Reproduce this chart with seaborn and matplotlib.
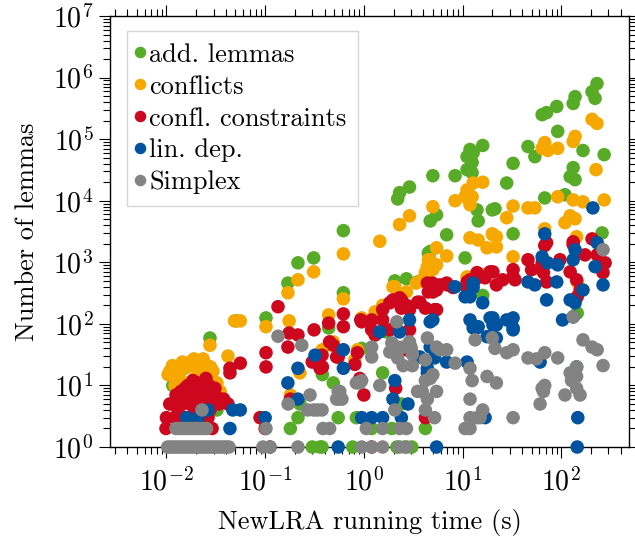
import matplotlib
matplotlib.use("Agg")
import matplotlib.pyplot as plt
import matplotlib.ticker as mticker
from matplotlib.lines import Line2D
import pandas as pd
import seaborn as sns

# ---------------- data (running time in s, number of lemmas) ----------------
series_names = ["add. lemmas", "conflicts", "confl. constraints", "lin. dep.", "Simplex"]
series_colors = ["#57AB27", "#F6A800", "#CC071E", "#00549F", "#838383"]

add_lemmas_pts = [
    (230, 800000), (205, 590000), (220, 460000), (138, 490000), (132, 380000), (90, 340000),
    (71, 270000), (64, 250000), (92, 134000), (46, 76000), (54, 52000), (16, 79000),
    (12.8, 60000), (12.5, 42000), (12.5, 28500), (32.5, 40500), (28, 19400), (166, 65500),
    (272, 56000), (132, 34500), (123, 24600), (138, 22000), (68, 11100), (109, 12500),
    (14, 7100), (14.4, 4700), (20, 7100), (21.3, 7400), (32.5, 2900), (259, 3000),
    (11.1, 52000), (11.9, 68000), (11.1, 32000), (8.4, 25500), (5.0, 25500), (2.9, 16700),
    (2.3, 13500), (2.2, 10700), (4.7, 4700), (5.45, 5900), (6.9, 2800), (2.06, 500),
    (2.7, 540), (4.5, 1420), (3.5, 480), (0.17, 460), (0.215, 980), (0.31, 1180),
    (0.62, 3270), (0.62, 320), (0.44, 86), (0.102, 125), (0.051, 112), (0.0276, 59),
    (0.0116, 10), (0.95, 40), (0.38, 15), (0.49, 11), (1.55, 16), (1.7, 74), (2.4, 5),
    (0.55, 3), (0.84, 3), (1.2, 2), (1.92, 2), (4.2, 2), (0.30, 1), (0.36, 1), (0.377, 1),
    (0.77, 1), (2.16, 1), (2.6, 1), (3.06, 1), (10.6, 1180), (4.7, 1500), (16, 290),
    (145, 150), (0.215, 3), (0.18, 2), (0.225, 5), (0.0325, 4),
]

conflicts_pts = [
    (205, 210000), (230, 180000), (138, 111000), (132, 92000), (68, 88000), (64, 71000),
    (73, 65500), (92, 71000), (225, 32000), (12.8, 19400), (16, 20000), (12.5, 11600),
    (11.9, 8600), (92, 11600), (132, 10300), (166, 9600), (272, 10300), (32.5, 8200),
    (46, 7650), (54, 7650), (28, 5300), (109, 4400), (123, 5700), (138, 5100), (20, 2900),
    (22, 2600), (68, 3500), (143, 2600), (11.9, 2500), (11.1, 15000), (10.6, 11600),
    (8.4, 10000), (5.0, 8000), (2.9, 5700), (2.3, 4100), (1.45, 2200), (14.4, 2300),
    (17.7, 1720), (20.3, 2800), (22, 1780), (32.5, 1230), (5.45, 1720), (4.5, 1100),
    (5.45, 910), (5.0, 760), (6.9, 1270), (4.4, 630), (3.9, 520), (2.7, 330), (2.06, 400),
    (11.1, 580), (16, 630), (0.17, 320), (0.215, 520), (0.31, 700), (0.62, 1370),
    (0.62, 255), (0.175, 112), (0.44, 140), (0.95, 125), (0.102, 90), (0.056, 112),
    (0.049, 112), (0.0276, 45), (0.042, 30), (1.3, 157), (1.55, 200), (1.97, 400),
    (3.4, 460), (4.2, 680), (4.7, 1100), (4.4, 850), (0.49, 51), (0.38, 38), (0.86, 38),
    (0.81, 26), (145, 480), (0.089, 3), (0.18, 7), (0.225, 16),
    (0.0108, 17), (0.0131, 18), (0.0154, 19), (0.018, 21), (0.021, 19), (0.0229, 17),
    (0.0264, 13), (0.0296, 17), (0.0137, 13), (0.0122, 10), (0.0154, 10), (0.0194, 13),
    (0.0245, 10), (0.0173, 24), (0.0218, 24), (0.0104, 15), (0.031, 10), (0.035, 8),
    (0.0325, 11), (0.019, 27), (0.025, 22), (0.0115, 21), (0.0145, 24), (0.0235, 27),
    (0.028, 20), (0.0125, 12),
]

confl_constraints_pts = [
    (0.01, 3), (0.0122, 3), (0.0147, 3), (0.018, 3), (0.0218, 3), (0.0264, 3),
    (0.0099, 2), (0.029, 2),
    (0.0131, 6), (0.0154, 7), (0.018, 8), (0.0218, 8), (0.0245, 9), (0.0276, 8), (0.031, 7),
    (0.0348, 6), (0.042, 5), (0.0144, 5), (0.0173, 5), (0.0208, 6), (0.0245, 5), (0.0288, 5),
    (0.0131, 4), (0.0194, 4), (0.0276, 4), (0.0154, 9), (0.031, 9), (0.0205, 11),
    (0.0251, 13), (0.0108, 5), (0.0165, 10), (0.0185, 12), (0.0235, 11), (0.0125, 7),
    (0.016, 6), (0.02, 7), (0.026, 7), (0.023, 6), (0.028, 6), (0.034, 5), (0.038, 6),
    (0.014, 8), (0.02, 9), (0.027, 10),
    (0.044, 16), (0.044, 19), (0.056, 23), (0.102, 34), (0.102, 20), (0.135, 190),
    (0.175, 71), (0.215, 66), (0.17, 42), (0.313, 80), (0.30, 24), (0.36, 19), (0.44, 103),
    (0.62, 145), (0.62, 90), (0.45, 51), (0.53, 29), (0.95, 108), (1.2, 116), (1.55, 170),
    (1.55, 116), (1.83, 220), (1.97, 245), (2.3, 265), (2.7, 200), (2.9, 170), (3.5, 225),
    (4.2, 180), (4.4, 460), (4.96, 460), (5.45, 355), (4.5, 330), (5.45, 170), (6.9, 460),
    (11.1, 390), (1.2, 80), (1.83, 80), (2.9, 80), (1.3, 66), (0.49, 45), (0.55, 29),
    (0.377, 31), (0.38, 20), (0.86, 34), (0.81, 22), (2.7, 38), (3.0, 38), (1.0, 7),
    (0.91, 13), (2.1, 9), (4.2, 3), (2.4, 180), (2.4, 245), (3.7, 225), (5.2, 170),
    (0.93, 116), (4.96, 400), (5.9, 430), (7.0, 430), (5.0, 330), (8.0, 390), (11.1, 480),
    (13.4, 520), (16.9, 560), (20.3, 700), (25.5, 520), (32.5, 760), (34, 520), (68, 1870),
    (132, 1940), (174, 1320), (231, 1320), (278, 980), (265, 680), (97, 1100), (50, 760),
    (64, 980), (46, 1100), (32.5, 580), (22, 430), (14, 680), (19, 700), (11.9, 520),
    (66, 680), (71, 480), (123, 700), (143, 520), (155, 355), (145, 275), (71, 2080),
    (132, 2150), (205, 2400), (0.089, 3), (0.1, 2), (0.112, 1), (0.18, 6), (1.2, 1),
]

lin_dep_pts = [
    (0.016, 3), (0.021, 3), (0.0264, 4), (0.047, 4), (0.056, 4), (0.044, 2), (0.1, 3),
    (0.17, 11), (0.215, 19), (0.215, 6), (0.32, 31), (0.62, 38), (0.62, 19), (0.55, 1),
    (10.6, 275), (8.4, 400), (2.9, 116), (4.7, 108), (5.0, 116), (1.45, 74), (2.3, 74),
    (3.7, 29), (4.7, 42), (5.45, 38), (5.2, 28), (6.9, 24), (11.1, 24), (4.4, 19),
    (2.06, 12), (1.97, 6), (2.8, 5), (4.4, 16), (0.95, 3), (1.2, 3), (1.55, 3), (2.4, 3),
    (5.45, 1), (11.9, 116), (12.8, 86), (14.4, 90), (20.3, 125), (22, 96), (28, 116),
    (32.5, 125), (32.5, 86), (11.9, 275), (16, 220), (12.8, 460), (64, 1230), (73, 980),
    (92, 910), (138, 1600), (132, 1100), (231, 2080), (220, 850), (265, 430), (46, 480),
    (54, 430), (90, 480), (166, 355), (123, 245), (138, 220), (71, 245), (103, 116),
    (132, 130), (12.8, 390), (19, 125), (20.3, 96), (32.5, 80), (14, 86), (17.7, 62),
    (22, 59), (61, 24), (143, 20), (16.9, 3), (147, 3), (145, 1), (209, 7650), (68, 2900),
]

simplex_pts = [
    (0.0103, 1), (0.011, 1), (0.0118, 1), (0.0126, 1), (0.0135, 1), (0.0145, 1), (0.0155, 1),
    (0.0166, 1), (0.0178, 1), (0.019, 1), (0.0204, 1), (0.0218, 1), (0.0233, 1), (0.025, 1),
    (0.0268, 1), (0.0287, 1), (0.0307, 1), (0.033, 1), (0.0355, 1), (0.038, 1), (0.0405, 1),
    (0.043, 1),
    (0.0125, 2), (0.0138, 2), (0.015, 2), (0.0165, 2), (0.018, 2), (0.0195, 2), (0.021, 2),
    (0.023, 2), (0.0255, 2),
    (0.0229, 4), (0.095, 1), (0.112, 1), (0.102, 2), (0.135, 63), (0.235, 45), (0.171, 5),
    (0.285, 7), (0.27, 4), (0.34, 4), (0.215, 1), (0.386, 2), (0.45, 2), (0.55, 6),
    (0.55, 8), (0.84, 11), (0.95, 12), (0.95, 1), (1.06, 2), (0.31, 4), (0.377, 4),
    (0.57, 8), (0.53, 6), (0.6, 6), (1.2, 42), (1.2, 29), (1.83, 35), (2.2, 42), (2.9, 51),
    (2.2, 28), (2.5, 21), (3.1, 21), (1.92, 49), (4.4, 59), (2.16, 108), (6.9, 38),
    (8.4, 23), (1.45, 10), (3.9, 8), (4.2, 12), (4.7, 13), (5.0, 15), (5.45, 8), (4.4, 6),
    (2.06, 4), (4.2, 4), (1.55, 2), (2.3, 2), (2.7, 2), (10.6, 2), (5.2, 3), (1.55, 1),
    (2.3, 1), (2.72, 1), (1.2, 1), (3.5, 8), (265, 1600), (132, 130), (13.4, 55), (20, 59),
    (21.3, 40), (28, 34), (32.5, 38), (46, 28), (56, 27), (68, 34), (92, 28), (166, 55),
    (205, 42), (231, 38), (265, 21), (123, 16), (143, 20), (127, 12), (143, 9), (155, 7),
    (64, 9), (68, 10), (61, 5), (109, 7), (11.9, 19), (12.5, 12), (17.7, 14), (22, 11),
    (11.9, 6), (16, 4), (14, 3), (11.9, 3), (11.9, 2), (32.5, 3), (15, 3), (2.5, 42),
    (3.0, 42), (3.1, 32), (5.9, 38), (5.45, 42), (4.2, 26), (143, 14), (66, 8), (0.91, 11),
]

x_ticks = [1e-2, 1e-1, 1e0, 1e1, 1e2]
x_tick_labels = [r"$10^{-2}$", r"$10^{-1}$", r"$10^{0}$", r"$10^{1}$", r"$10^{2}$"]
y_ticks = [1e0, 1e1, 1e2, 1e3, 1e4, 1e5, 1e6, 1e7]
y_tick_labels = [r"$10^{0}$", r"$10^{1}$", r"$10^{2}$", r"$10^{3}$", r"$10^{4}$",
                 r"$10^{5}$", r"$10^{6}$", r"$10^{7}$"]
x_label = "NewLRA running time (s)"
y_label = "Number of lemmas"

# ---------------- build table ----------------
all_pts = [add_lemmas_pts, conflicts_pts, confl_constraints_pts, lin_dep_pts, simplex_pts]
frames = []
for name, pts in zip(series_names, all_pts):
    frames.append(pd.DataFrame({"time": [p[0] for p in pts],
                                "lemmas": [p[1] for p in pts],
                                "series": name}))
df = pd.concat(frames, ignore_index=True)

# ---------------- style ----------------
sns.set_theme(style="white")
plt.rcParams.update({
    "font.family": ["cmr10", "DejaVu Serif"],
    "mathtext.fontset": "cm",
    "axes.formatter.use_mathtext": True,
    "axes.unicode_minus": False,
    "axes.edgecolor": "black",
    "axes.linewidth": 1.0,
    "xtick.color": "black",
    "ytick.color": "black",
    "text.color": "black",
    "axes.labelcolor": "black",
})

fs = 19
fig = plt.figure(figsize=(6.35, 5.38), dpi=100)
ax = fig.add_axes([0.1732, 0.1691, 0.8173, 0.8011])

palette = dict(zip(series_names, series_colors))
sns.scatterplot(data=df, x="time", y="lemmas", hue="series", hue_order=series_names,
                palette=palette, s=95, linewidth=0, legend=False, ax=ax,
                clip_on=False, zorder=3)

ax.set_xscale("log")
ax.set_yscale("log")
ax.set_xlim(0.00268, 485)
ax.set_ylim(1, 1e7)

ax.set_xticks(x_ticks)
ax.set_xticklabels(x_tick_labels)
ax.set_yticks(y_ticks)
ax.set_yticklabels(y_tick_labels)
ax.xaxis.set_minor_locator(mticker.LogLocator(base=10, subs=range(2, 10), numticks=20))
ax.yaxis.set_minor_locator(mticker.LogLocator(base=10, subs=range(2, 10), numticks=20))
ax.xaxis.set_minor_formatter(mticker.NullFormatter())
ax.yaxis.set_minor_formatter(mticker.NullFormatter())

ax.tick_params(which="both", direction="out", top=True, right=True,
               bottom=True, left=True, width=0.8, labelsize=20)
ax.tick_params(axis="x", which="major", length=8, pad=7)
ax.tick_params(axis="y", which="major", length=8, pad=4)
ax.tick_params(which="minor", length=5)

for sp in ax.spines.values():
    sp.set_visible(True)
    sp.set_color("black")
    sp.set_linewidth(1.0)

ax.set_xlabel(x_label, fontsize=fs, labelpad=9)
ax.set_ylabel(y_label, fontsize=fs, labelpad=10)

handles = [Line2D([0], [0], marker="o", linestyle="", markerfacecolor=c,
                  markeredgewidth=0, markersize=8.3) for c in series_colors]
leg = ax.legend(handles, series_names, loc="upper left", bbox_to_anchor=(0.033, 0.965),
                borderaxespad=0, frameon=True, fancybox=False, fontsize=fs,
                handlelength=0.05, handletextpad=0.33, borderpad=0.45, labelspacing=0.31)
leg.get_frame().set_edgecolor("#cccccc")
leg.get_frame().set_linewidth(1.0)
leg.set_zorder(5)

fig.savefig("out.png", dpi=100)
